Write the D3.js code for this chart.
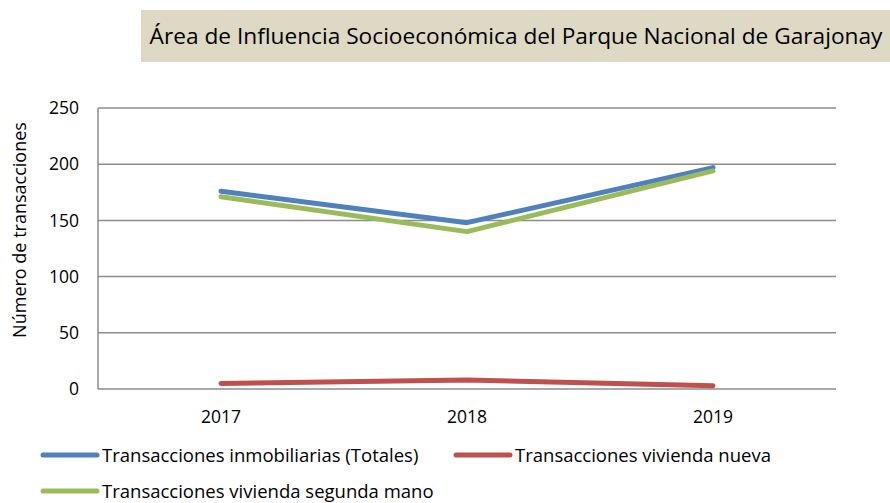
<!DOCTYPE html>
<html><head><meta charset="utf-8">
<script src="https://cdn.jsdelivr.net/npm/d3@7"></script>
<style>body{margin:0;background:#fff}svg{display:block}text{font-family:"Open Sans",sans-serif;fill:#000}</style>
</head><body><svg id="c" width="890" height="503"></svg>
<script>
const title = "Área de Influencia Socioeconómica del Parque Nacional de Garajonay";
const yTitle = "Número de transacciones";
const years = ["2017", "2018", "2019"];
const seriesNames = ["Transacciones inmobiliarias (Totales)", "Transacciones vivienda nueva", "Transacciones vivienda segunda mano"];
const totales = [176, 148, 197];
const nueva = [5, 8, 3];
const segunda = [171, 140, 194];
const yTicks = [0, 50, 100, 150, 200, 250];
const colors = ["#4F81BD", "#C0504D", "#9BBB59"];

const series = [totales, nueva, segunda].map((v, i) => ({name: seriesNames[i], values: v, color: colors[i]}));

const svg = d3.select("#c");
const m = {left: 98, right: 836, top: 108, bottom: 389};

// title box
svg.append("rect").attr("x", 141).attr("y", 10).attr("width", 749).attr("height", 52).attr("fill", "#DDD9C4");
svg.append("text").attr("x", 516).attr("y", 44).attr("text-anchor", "middle").style("font-size", "22.7px").text(title);

const x = d3.scaleBand().domain(years).range([m.left, m.right]);
const y = d3.scaleLinear().domain([0, 250]).range([m.bottom, m.top]);

// gridlines
svg.append("g").selectAll("line").data(yTicks).join("line")
  .attr("x1", m.left).attr("x2", m.right)
  .attr("y1", d => y(d)).attr("y2", d => y(d))
  .attr("stroke", "#8C8C8C").attr("stroke-width", 1.5);
// left axis line
svg.append("line").attr("x1", m.left).attr("x2", m.left).attr("y1", m.top).attr("y2", m.bottom)
  .attr("stroke", "#8C8C8C").attr("stroke-width", 1.5);

const yAxis = d3.axisLeft(y).tickValues(yTicks).tickSize(0).tickPadding(19);
const ga = svg.append("g").attr("transform", `translate(${m.left},0)`).call(yAxis);
ga.select(".domain").remove();
ga.selectAll("text").style("font-size", "17.5px").style("font-family", "'Open Sans',sans-serif").attr("fill", "#000");

const xAxis = d3.axisBottom(x).tickSize(0).tickPadding(22);
const gx = svg.append("g").attr("transform", `translate(0,${m.bottom})`).call(xAxis);
gx.select(".domain").remove();
gx.selectAll("text").style("font-size", "17.5px").style("font-family", "'Open Sans',sans-serif").attr("fill", "#000");

svg.append("text").attr("transform", "translate(26,230) rotate(-90)").attr("text-anchor", "middle")
  .style("font-size", "18px").text(yTitle);

const line = d3.line().x((d, i) => x(years[i]) + x.bandwidth() / 2).y(d => y(d));
svg.append("g").selectAll("path").data(series).join("path")
  .attr("d", d => line(d.values)).attr("fill", "none")
  .attr("stroke", d => d.color).attr("stroke-width", 5).attr("stroke-linecap", "round").attr("stroke-linejoin", "round");

// legend
const legPos = [[43, 455], [456, 455], [43, 491]];
const lg = svg.append("g").selectAll("g").data(series).join("g")
  .attr("transform", (d, i) => `translate(${legPos[i][0]},${legPos[i][1]})`);
lg.append("line").attr("x1", 0).attr("x2", 54).attr("stroke", d => d.color).attr("stroke-width", 5).attr("stroke-linecap", "round");
lg.append("text").attr("x", 59).attr("y", 6.5).style("font-size", "18.5px").text(d => d.name);
</script></body></html>
